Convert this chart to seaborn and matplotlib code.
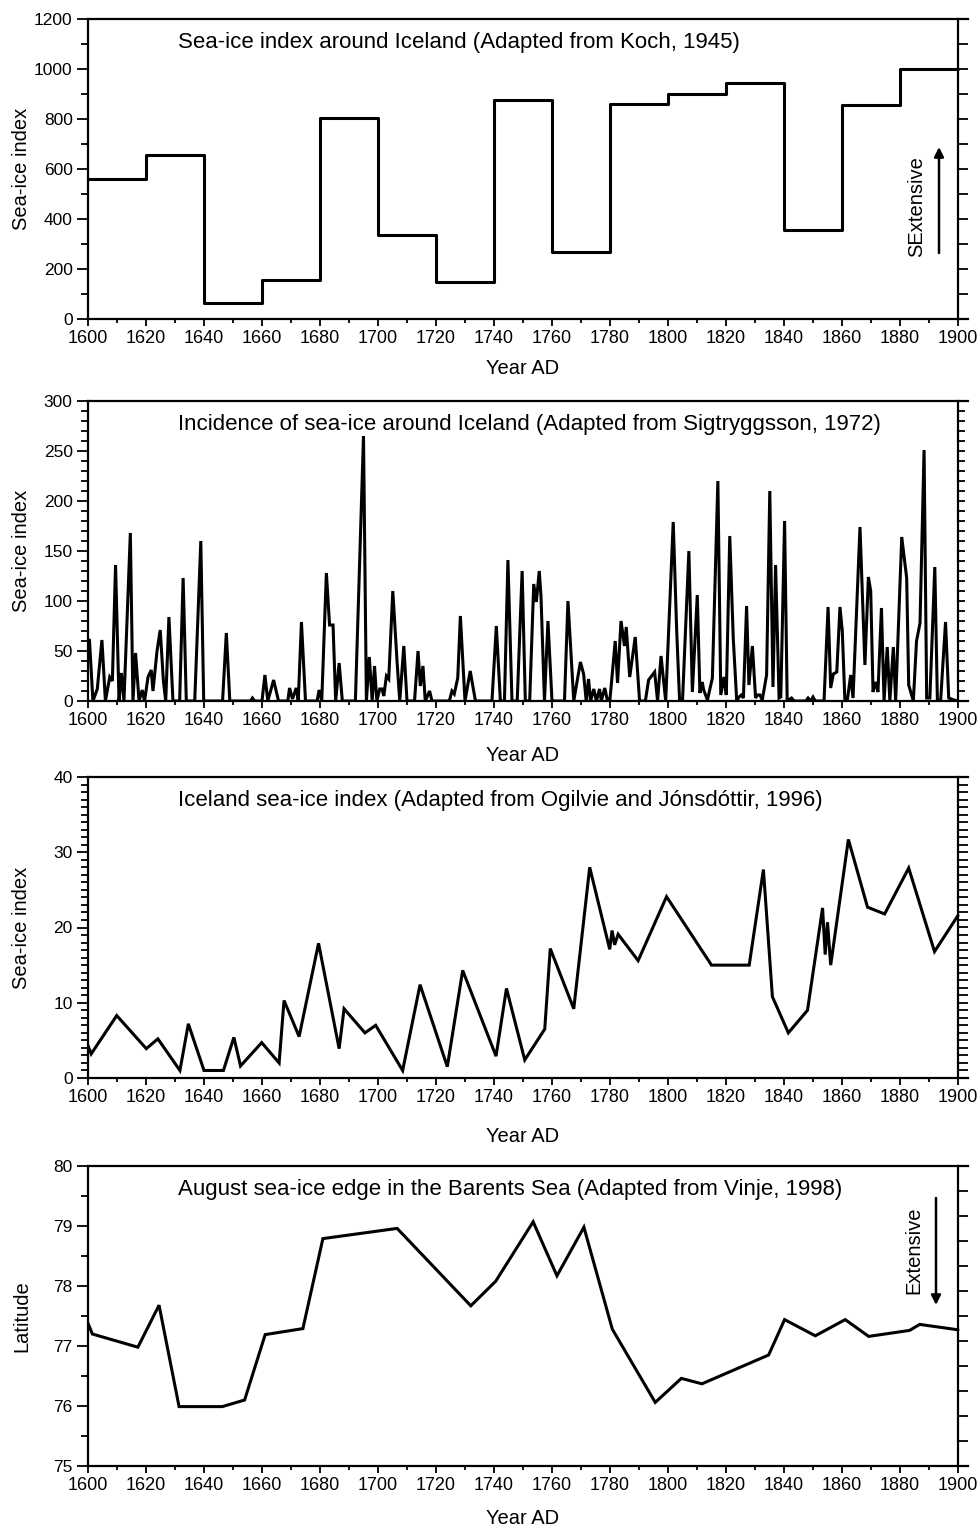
import numpy as np
import matplotlib
matplotlib.use("Agg")
import matplotlib.pyplot as plt
import seaborn as sns
from matplotlib.ticker import FixedLocator, MultipleLocator, NullLocator

# ---------------- data ----------------
# Panel 1: Koch (1945), 20-year step values
koch_start_years = [1600, 1620, 1640, 1660, 1680, 1700, 1720, 1740,
                    1760, 1780, 1800, 1820, 1840, 1860, 1880]
koch_index = [560, 655, 65, 155, 805, 335, 150, 875,
              270, 860, 900, 945, 355, 855, 1000]
koch_end_year = 1900

# Panel 2: Sigtryggsson (1972)
sig_years = [1600.5, 1601.7, 1603.2, 1604.8, 1606.0, 1607.5, 1608.4, 1609.5, 1610.7, 1611.5,
             1612.4, 1614.6, 1615.5, 1616.4, 1617.6, 1618.7, 1619.5, 1620.7, 1621.8, 1622.4,
             1623.8, 1624.9, 1626.0, 1626.8, 1627.9, 1629.3, 1631.6, 1632.8, 1633.9, 1636.8,
             1638.9, 1639.9, 1646.4, 1647.7, 1648.9, 1656.0, 1656.7, 1657.5, 1660.0, 1661.0,
             1662.0, 1664.0, 1665.7, 1668.9, 1669.5, 1670.5, 1671.8, 1672.5, 1673.6, 1675.0,
             1679.0, 1679.7, 1680.6, 1682.2, 1683.3, 1684.5, 1685.4, 1686.6, 1687.7, 1692.2,
             1695.0, 1696.0, 1697.0, 1698.0, 1698.8, 1699.6, 1700.6, 1701.4, 1702.0, 1702.9,
             1703.7, 1705.1, 1706.6, 1707.5, 1708.9, 1710.0, 1712.6, 1713.8, 1714.6, 1715.5,
             1716.3, 1717.8, 1718.6, 1724.6, 1725.5, 1726.3, 1727.5, 1728.4, 1730.0, 1731.8,
             1733.6, 1739.3, 1740.8, 1742.2, 1743.6, 1744.8, 1746.2, 1748.0, 1749.7, 1750.8,
             1752.3, 1753.7, 1754.6, 1755.6, 1756.2, 1757.4, 1758.6, 1760.0, 1764.3, 1765.5,
             1767.5, 1769.8, 1770.9, 1771.8, 1772.6, 1773.3, 1774.4, 1775.3, 1776.4, 1777.0,
             1778.2, 1779.0, 1780.0, 1781.8, 1782.6, 1783.8, 1785.0, 1785.6, 1786.8, 1788.7,
             1790.2, 1792.2, 1793.3, 1795.4, 1796.4, 1797.6, 1799.2, 1801.8, 1803.0, 1804.0,
             1805.0, 1807.2, 1808.4, 1810.1, 1811.0, 1811.8, 1812.3, 1813.6, 1815.3, 1817.2,
             1818.2, 1819.3, 1820.1, 1821.3, 1822.5, 1823.7, 1824.5, 1825.3, 1826.0, 1827.1,
             1827.9, 1829.1, 1830.2, 1830.8, 1831.7, 1832.5, 1834.0, 1835.1, 1836.2, 1837.1,
             1838.3, 1838.9, 1840.2, 1841.1, 1842.6, 1843.5, 1847.5, 1848.3, 1849.2, 1850.0,
             1850.8, 1853.8, 1855.2, 1856.1, 1857.0, 1858.2, 1859.3, 1860.1, 1861.0, 1861.8,
             1863.0, 1863.8, 1866.2, 1867.9, 1869.1, 1869.9, 1870.7, 1871.6, 1872.4, 1873.6,
             1874.5, 1875.6, 1876.5, 1877.7, 1878.5, 1880.6, 1882.3, 1883.0, 1884.6, 1885.7,
             1886.9, 1888.3, 1889.2, 1890.3, 1892.0, 1892.9, 1894.0, 1895.7, 1896.8, 1898.6,
             1900.0]
sig_index = [61, 0, 12, 61, 0, 24, 20, 136, 0, 28,
             0, 168, 0, 48, 0, 11, 0, 24, 31, 10,
             50, 71, 20, 0, 84, 0, 0, 123, 0, 0,
             160, 0, 0, 68, 0, 0, 3, 0, 0, 26,
             0, 21, 0, 0, 13, 2, 13, 0, 79, 0,
             0, 11, 0, 128, 76, 76, 0, 38, 0, 0,
             265, 0, 44, 0, 35, 0, 12, 12, 5, 25,
             22, 110, 38, 0, 55, 0, 0, 50, 15, 35,
             0, 10, 0, 0, 10, 7, 23, 85, 0, 30,
             0, 0, 75, 0, 0, 141, 0, 0, 130, 0,
             0, 117, 99, 130, 105, 0, 80, 0, 0, 100,
             0, 39, 27, 0, 22, 0, 12, 0, 12, 0,
             13, 2, 2, 60, 18, 80, 55, 74, 24, 64,
             0, 0, 21, 29, 0, 45, 0, 179, 70, 0,
             0, 150, 9, 106, 8, 19, 11, 1, 23, 220,
             6, 24, 6, 165, 63, 0, 4, 6, 3, 95,
             16, 55, 3, 6, 6, 1, 26, 210, 14, 136,
             3, 4, 180, 0, 3, 0, 0, 3, 0, 4,
             0, 0, 94, 13, 27, 29, 94, 70, 0, 0,
             26, 3, 174, 36, 124, 110, 9, 19, 9, 93,
             0, 54, 0, 54, 0, 164, 123, 16, 0, 60,
             78, 251, 3, 3, 134, 0, 0, 79, 3, 1,
             0]

# Panel 3: Ogilvie and Jonsdottir (1996)
ogilvie_years = [1600.0, 1601.1, 1609.9, 1620.1, 1624.1, 1631.7, 1634.6, 1640.0, 1646.7, 1650.3,
                 1652.6, 1659.9, 1665.9, 1667.6, 1672.8, 1679.5, 1686.6, 1688.3, 1695.5, 1699.2,
                 1708.5, 1714.5, 1723.9, 1729.2, 1740.7, 1744.3, 1750.6, 1757.5, 1759.4, 1767.5,
                 1773.0, 1779.9, 1780.7, 1781.6, 1782.8, 1789.7, 1799.5, 1815.0, 1828.0, 1832.9,
                 1836.0, 1841.5, 1848.1, 1853.3, 1854.2, 1855.0, 1856.1, 1862.2, 1868.8, 1874.7,
                 1883.0, 1891.9, 1900.0]
ogilvie_index = [4.3, 3.2, 8.3, 3.9, 5.2, 1.0, 7.2, 1.0, 1.0, 5.4,
                 1.6, 4.7, 2.0, 10.3, 5.5, 17.9, 3.9, 9.2, 6.0, 7.0,
                 1.0, 12.4, 1.5, 14.3, 2.9, 11.9, 2.4, 6.5, 17.2, 9.2,
                 28.0, 17.1, 19.6, 17.7, 19.1, 15.6, 24.1, 15.0, 15.0, 27.7,
                 10.8, 6.0, 9.0, 22.6, 16.4, 20.7, 15.0, 31.7, 22.7, 21.8,
                 27.9, 16.8, 21.6]

# Panel 4: Vinje (1998), August ice edge latitude
vinje_years = [1600.0, 1601.5, 1617.2, 1624.5, 1631.4, 1646.3, 1654.0, 1661.1, 1674.1, 1681.0,
               1706.6, 1732.0, 1740.6, 1753.5, 1761.7, 1771.0, 1780.8, 1795.6, 1804.6, 1811.7,
               1834.7, 1840.2, 1850.8, 1861.1, 1869.2, 1883.3, 1886.8, 1900.0]
vinje_latitude = [77.38, 77.20, 76.98, 77.68, 75.99, 75.99, 76.10, 77.19, 77.29, 78.79,
                  78.96, 77.67, 78.08, 79.07, 78.17, 78.98, 77.28, 76.06, 76.46, 76.37,
                  76.85, 77.44, 77.17, 77.44, 77.16, 77.26, 77.36, 77.27]

titles = ["Sea-ice index around Iceland (Adapted from Koch, 1945)",
          "Incidence of sea-ice around Iceland (Adapted from Sigtryggsson, 1972)",
          "Iceland sea-ice index (Adapted from Ogilvie and Jónsdóttir, 1996)",
          "August sea-ice edge in the Barents Sea (Adapted from Vinje, 1998)"]
ylabels = ["Sea-ice index", "Sea-ice index", "Sea-ice index", "Latitude"]
xlabel = "Year AD"

# ---------------- layout ----------------
sns.set_style("ticks")
plt.rcParams["font.family"] = ["Liberation Sans", "DejaVu Sans"]
plt.rcParams["text.color"] = "black"
plt.rcParams["axes.labelcolor"] = "black"
plt.rcParams["xtick.color"] = "black"
plt.rcParams["ytick.color"] = "black"

W, H = 977, 1529
fig = plt.figure(figsize=(W / 100, H / 100), dpi=100)
fig.patch.set_facecolor("white")

X0 = 88.0
PX_PER_YEAR = 2.9
XMIN, XEND, XMAX = 1600, 1900, 1903.5
AX_W = (XMAX - XMIN) * PX_PER_YEAR
panels_px = [(19, 319), (401, 701), (777, 1078), (1166, 1466)]
xlabel_centers = [368, 756, 1137, 1518]

LW = 2.2
SPW = 1.6


def make_axes(top, bot):
    return fig.add_axes([X0 / W, 1 - bot / H, AX_W / W, (bot - top) / H])


def frac_x(px):
    return (px - X0) / AX_W


def style(ax, idx, ylim, major, minor, right_ticks, right_len):
    top, bot = panels_px[idx]
    hpx = bot - top
    ax.set_xlim(XMIN, XMAX)
    ax.set_ylim(*ylim)
    ax.set_facecolor("white")
    ax.spines["right"].set_visible(False)
    for s in ["left", "bottom", "top"]:
        ax.spines[s].set_visible(True)
        ax.spines[s].set_linewidth(SPW)
        ax.spines[s].set_color("black")
    ax.xaxis.set_major_locator(FixedLocator(np.arange(XMIN, XEND + 1, 20)))
    ax.xaxis.set_minor_locator(FixedLocator(np.arange(XMIN + 10, XEND, 20)))
    ax.yaxis.set_major_locator(MultipleLocator(major))
    ax.yaxis.set_minor_locator(MultipleLocator(minor))
    ax.tick_params(axis="x", which="major", direction="out", length=5, width=1.3,
                   labelsize=13, pad=3, top=False)
    ax.tick_params(axis="x", which="minor", direction="out", length=3, width=1.3, top=False)
    ax.tick_params(axis="y", which="major", direction="out", length=8, width=1.3,
                   labelsize=12.5, pad=3, right=False)
    ax.tick_params(axis="y", which="minor", direction="out", length=5, width=1.3, right=False)

    ax.set_xlabel(xlabel, fontsize=14.5)
    ax.xaxis.label.set_va("center")
    ax.xaxis.set_label_coords(frac_x((X0 + X0 + (XEND - XMIN) * PX_PER_YEAR) / 2),
                              -(xlabel_centers[idx] - bot) / hpx)
    ax.set_ylabel(ylabels[idx], fontsize=14.5)
    ax.yaxis.label.set_va("center")
    ax.yaxis.set_label_coords(frac_x(22), 0.5)

    ax.text(frac_x(177.5), 0.921, titles[idx], transform=ax.transAxes,
            ha="left", va="center", fontsize=16)

    tw = ax.twinx()
    tw.set_ylim(*ylim)
    for s in ["left", "top", "bottom"]:
        tw.spines[s].set_visible(False)
    tw.spines["right"].set_position(("data", XEND))
    tw.spines["right"].set_linewidth(SPW)
    tw.spines["right"].set_color("black")
    tw.yaxis.set_major_locator(FixedLocator(right_ticks))
    tw.yaxis.set_minor_locator(NullLocator())
    tw.tick_params(axis="y", which="major", right=True, left=False, labelright=False,
                   labelleft=False, length=right_len, width=1.3, direction="out")
    return tw


axes = [make_axes(t, b) for t, b in panels_px]

# Panel 1 (steps)
ax = axes[0]
sns.lineplot(x=koch_start_years + [koch_end_year], y=koch_index + [koch_index[-1]],
             ax=ax, color="black", linewidth=LW, estimator=None, sort=False,
             drawstyle="steps-post", legend=False)
style(ax, 0, (0, 1200), 200, 100, np.arange(0, 1201, 100), 7)
ax.text(frac_x(917), (319 - 207) / 300, "SExtensive", rotation=90, transform=ax.transAxes,
        ha="center", va="center", fontsize=14.5)
ax.annotate("", xy=(frac_x(939), (319 - 147) / 300), xytext=(frac_x(939), (319 - 253) / 300),
            xycoords="axes fraction", textcoords="axes fraction",
            arrowprops=dict(arrowstyle="-|>", color="black", lw=1.8, mutation_scale=14,
                            shrinkA=0, shrinkB=0))

# Panel 2
ax = axes[1]
sns.lineplot(x=sig_years, y=sig_index, ax=ax, color="black", linewidth=LW,
             estimator=None, sort=False, legend=False)
for l in ax.lines:
    l.set_solid_joinstyle("miter")
style(ax, 1, (0, 300), 50, 10, np.arange(0, 301, 10), 5)

# Panel 3
ax = axes[2]
sns.lineplot(x=ogilvie_years, y=ogilvie_index, ax=ax, color="black", linewidth=LW,
             estimator=None, sort=False, legend=False)
for l in ax.lines:
    l.set_solid_joinstyle("miter")
style(ax, 2, (0, 40), 10, 1, np.arange(0, 41, 1), 7)

# Panel 4
ax = axes[3]
sns.lineplot(x=vinje_years, y=vinje_latitude, ax=ax, color="black", linewidth=LW,
             estimator=None, sort=False, legend=False)
for l in ax.lines:
    l.set_solid_joinstyle("miter")
style(ax, 3, (75, 80), 1, 0.5, np.linspace(75, 80, 13), 7)
ax.text(frac_x(914), (1466 - 1250) / 300, "Extensive", rotation=90, transform=ax.transAxes,
        ha="center", va="center", fontsize=14.5)
ax.annotate("", xy=(frac_x(936), (1466 - 1305) / 300), xytext=(frac_x(936), (1466 - 1198) / 300),
            xycoords="axes fraction", textcoords="axes fraction",
            arrowprops=dict(arrowstyle="-|>", color="black", lw=1.8, mutation_scale=14,
                            shrinkA=0, shrinkB=0))

fig.savefig("out.png", dpi=100, facecolor="white")
